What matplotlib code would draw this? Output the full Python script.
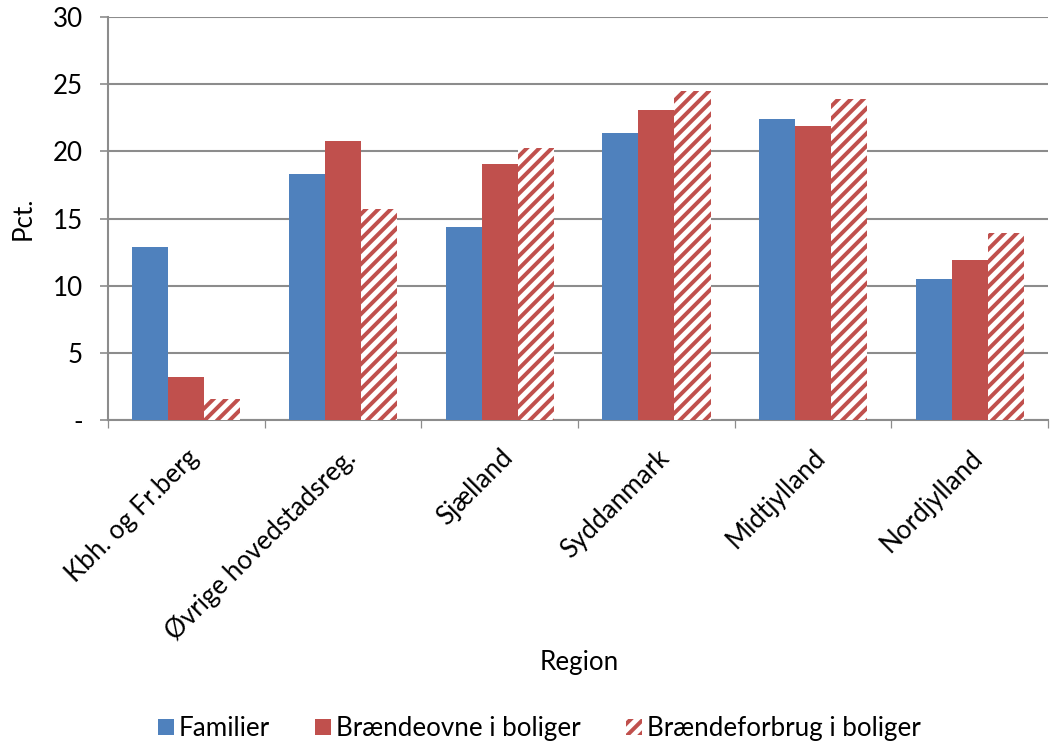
import numpy as np
import matplotlib
matplotlib.use("Agg")
import matplotlib.pyplot as plt

plt.rcParams['font.family'] = ['Lato', 'DejaVu Sans']
plt.rcParams['hatch.linewidth'] = 1.9

regions = ["Kbh. og Fr.berg", "Øvrige hovedstadsreg.", "Sjælland",
           "Syddanmark", "Midtjylland", "Nordjylland"]
familier = [12.9, 18.3, 14.4, 21.4, 22.4, 10.5]
braendeovne = [3.2, 20.8, 19.1, 23.1, 21.9, 11.9]
braendeforbrug = [1.6, 15.7, 20.25, 24.5, 23.9, 13.9]

blue = '#4f81bd'
red = '#c0504d'
grid = '#8c8c8c'
fs = 12.5

fig = plt.figure(figsize=(1062 / 150, 745 / 150), dpi=150)
ax = fig.add_axes([0.1017, 0.4362, 0.8853, 0.5408])

x = np.arange(len(regions))
w = 0.23
ax.bar(x - w, familier, w, color=blue, label='Familier', zorder=3)
ax.bar(x, braendeovne, w, color=red, label='Brændeovne i boliger', zorder=3)
ax.bar(x + w, braendeforbrug, w, facecolor='white', edgecolor=red, hatch='////',
       linewidth=0, label='Brændeforbrug i boliger', zorder=3)

ax.set_xlim(-0.5, len(regions) - 0.5)
ax.set_ylim(0, 30)
ax.set_yticks([0, 5, 10, 15, 20, 25, 30])
ax.set_yticklabels(['-', '5', '10', '15', '20', '25', '30'], fontsize=fs)
ax.yaxis.grid(True, color=grid, linewidth=1.0, zorder=0)
ax.set_axisbelow(True)

ax.set_xticks(x)
ax.set_xticklabels(regions, rotation=45, ha='right', rotation_mode='anchor', fontsize=fs)
ax.set_xticks(np.arange(len(regions) + 1) - 0.5, minor=True)
ax.tick_params(axis='x', which='major', length=0, pad=12)
ax.tick_params(axis='x', which='minor', length=4, color=grid, direction='out')
ax.tick_params(axis='y', length=4, color=grid, direction='out', pad=8)

for s in ['top', 'right']:
    ax.spines[s].set_visible(False)
for s in ['left', 'bottom']:
    ax.spines[s].set_color(grid)
    ax.spines[s].set_linewidth(1.0)

ax.set_ylabel('Pct.', fontsize=fs, labelpad=8)
fig.text(0.545, 0.111, 'Region', ha='center', va='center', fontsize=fs)

fig.legend(loc='center', bbox_to_anchor=(0.508, 0.022), ncol=3, frameon=False,
           fontsize=fs, handlelength=0.6, handleheight=0.6, handletextpad=0.2,
           columnspacing=1.75)

fig.savefig('out.png', dpi=150)
